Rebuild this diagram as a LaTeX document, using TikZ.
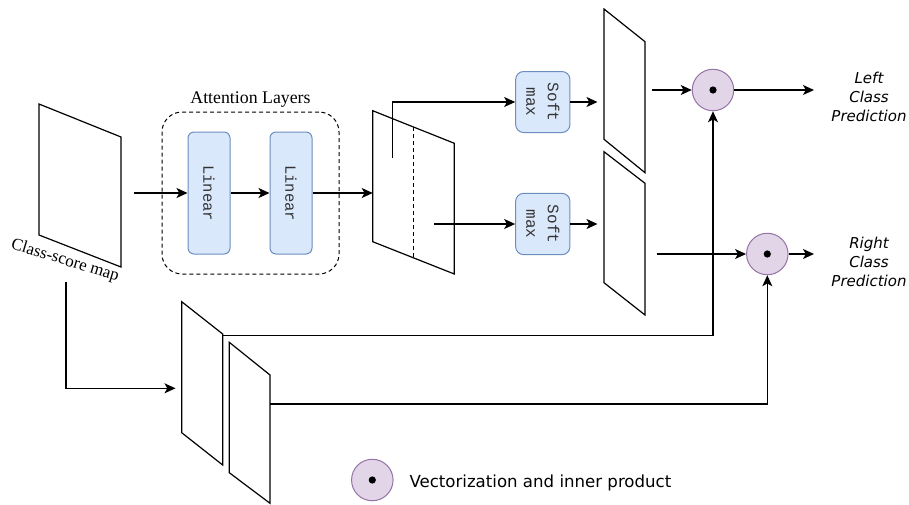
\documentclass[tikz,border=0pt]{standalone}
\usepackage{fontspec}
\newfontfamily\labelsans{DejaVu Sans}
\newfontfamily\codemono{Liberation Mono}
\newfontfamily\capserif{Liberation Serif}
\usetikzlibrary{arrows.meta}
\definecolor{boxfill}{HTML}{DAE8FC}
\definecolor{boxline}{HTML}{6C8EBF}
\definecolor{opfill}{HTML}{E1D5E7}
\definecolor{opline}{HTML}{9673A6}
\tikzset{
  wire/.style={line width=1.2pt, black},
  arr/.style={wire, -{Stealth[length=11pt,width=10pt,inset=2.8pt]}},
  plane/.style={draw, line width=1.2pt, fill=white, line join=miter},
  layerbox/.style={draw=boxline, fill=boxfill, line width=1pt, rounded corners=6pt,
    rotate=-90, inner sep=0pt, text=black!80},
  opnode/.style={circle, draw=opline, fill=opfill, line width=1pt,
    minimum size=41.5pt, inner sep=0pt},
  outlabel/.style={font=\labelsans\itshape\fontsize{15}{18.8}\selectfont, align=center},
}
\begin{document}
\begin{tikzpicture}[x=1pt,y=-1pt]
\useasboundingbox (0,0) rectangle (909,504);

% feature maps
\draw[plane] (39,104) -- (121,137) -- (121,267) -- (39,235) -- cycle;
\draw[plane] (372.7,110.7) -- (454.3,143.3) -- (454.3,274) -- (372.7,241.7) -- cycle;
\draw[dashed, line width=1pt, dash pattern=on 4pt off 3pt] (413.3,127) -- (413.3,258);
\draw[plane] (604,9) -- (645,41.7) -- (645,172.7) -- (604,139.3) -- cycle;
\draw[plane] (604,151.7) -- (645,183.3) -- (645,315) -- (604,282.7) -- cycle;
\draw[plane] (181.7,301.7) -- (222.7,334) -- (222.7,465) -- (181.7,432.7) -- cycle;
\draw[plane] (229.3,342.3) -- (270,375) -- (270,503.3) -- (229.3,472.7) -- cycle;

\node[font=\capserif\fontsize{17}{20}\selectfont, rotate=-17, inner sep=0pt]
  (mapname) at (65,261) {Class-score map};

% attention block
\node[draw, line width=1pt, dash pattern=on 4pt off 3pt, rounded corners=20pt,
  minimum width=177pt, minimum height=162pt] (attn) at (250.5,193) {};
\node[font=\capserif\fontsize{17.8}{21}\selectfont, anchor=base]
  (attnname) at (250.5,103.3) {Attention Layers};
\node[layerbox, minimum width=122pt, minimum height=42pt,
  font=\codemono\fontsize{15.5}{18}\selectfont] (lin1) at (209,193) {Linear};
\node[layerbox, minimum width=122pt, minimum height=42pt,
  font=\codemono\fontsize{15.5}{18}\selectfont] (lin2) at (291,193) {Linear};

% softmax blocks
\node[layerbox, minimum width=61pt, minimum height=54.3pt, rounded corners=8pt, align=center,
  font=\codemono\fontsize{16}{21.5}\selectfont] (sm1) at (542.8,102) {Soft\\max};
\node[layerbox, minimum width=61.3pt, minimum height=54.3pt, rounded corners=8pt, align=center,
  font=\codemono\fontsize{16}{21.5}\selectfont] (sm2) at (542.8,224) {Soft\\max};

% product operators
\node[opnode] (op1) at (713,90) {};
\node[opnode] (op2) at (767.3,254) {};
\fill (op1.center) circle[radius=3.6pt];
\fill (op2.center) circle[radius=3.6pt];

\node[outlabel] (leftpred) at (869,97.2) {Left\\Class\\Prediction};
\node[outlabel] (rightpred) at (869,261.8) {Right\\Class\\Prediction};

% legend
\node[opnode] (legop) at (372.3,480) {};
\fill (legop.center) circle[radius=3.6pt];
\node[anchor=base west, inner sep=0pt, font=\labelsans\fontsize{16.6}{20}\selectfont]
  (legtext) at (409.3,487) {Vectorization and inner product};

% connection points on the maps
\coordinate (mapout) at (134,193);
\coordinate (p2in) at (372.7,193);
\coordinate (p2top) at (392.7,158.3);
\coordinate (p2bot) at (434,224);
\coordinate (p3in) at (597.5,102);
\coordinate (p4in) at (597.5,224);
\coordinate (p3out) at (651.7,90);
\coordinate (p4out) at (656.7,254);
\coordinate (mapdown) at (66,281.7);
\coordinate (p5in) at (175.5,388.3);
\coordinate (p5out) at (222.7,335.7);
\coordinate (p6out) at (270,404);
\coordinate (leftend) at (814,90);
\coordinate (rightend) at (814,254);

% connectors
\draw[arr] (mapout) -- (lin1);
\draw[arr] (lin1) -- (lin2);
\draw[arr] (lin2) -- (p2in);
\draw[arr] (p2top) |- (sm1);
\draw[arr] (p2bot) -- (sm2);
\draw[arr] (sm1) -- (p3in);
\draw[arr] (sm2) -- (p4in);
\draw[arr] (p3out) -- (op1);
\draw[arr] (p4out) -- (op2);
\draw[arr] (op1) -- (leftend);
\draw[arr] (op2) -- (rightend);
\draw[arr] (mapdown) |- (p5in);
\draw[arr] (p5out) -| (op1);
\draw[arr] (p6out) -| (op2);
\end{tikzpicture}
\end{document}
